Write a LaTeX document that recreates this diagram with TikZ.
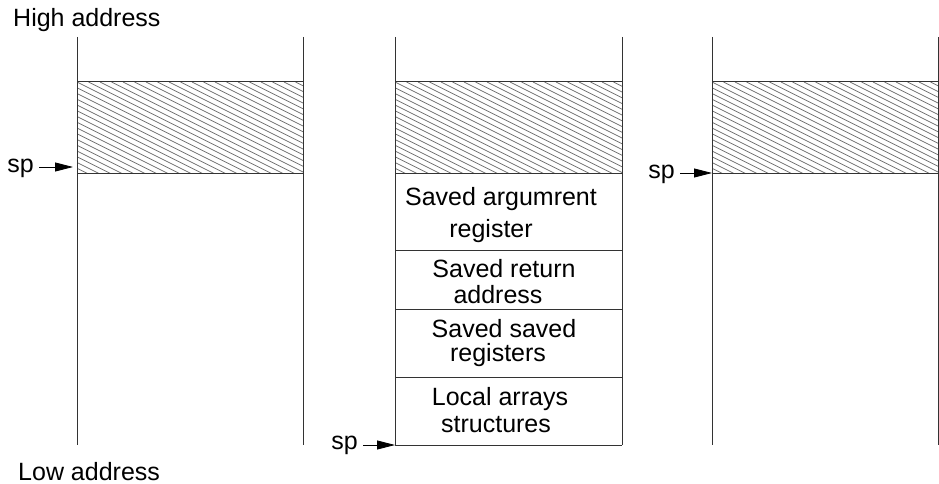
\documentclass[tikz,border=0pt]{standalone}
\usepackage{fontspec}
\setmainfont{Liberation Sans}
\usetikzlibrary{arrows.meta}
\tikzset{
  frame/.style={draw=black!80, line width=1pt},
  hatchline/.style={draw=black!55, line width=0.7pt},
  lbl/.style={font=\fontsize{25}{29}\selectfont, inner sep=0pt},
  spar/.style={draw=black, line width=0.8pt, -{Triangle[length=18pt,width=9pt]}, shorten <=5pt},
}
\newcommand{\myhatch}[2]{%
  \begin{scope}
    \clip (#1,82) rectangle (#2,173);
    \foreach \k in {-17,...,21} { \draw[hatchline] ({#1+11.5*\k},82) -- ++(220,110); }
  \end{scope}
  \draw[frame] (#1,82) rectangle (#2,173);
}
\begin{document}
\begin{tikzpicture}[x=1pt,y=-1pt]
\useasboundingbox (0,0) rectangle (939,484);
% labels
\node[lbl, anchor=base west] (hi) at (13,27) {High address};
\node[lbl, anchor=base west] (lo) at (18,480) {Low address};
% column 1
\draw[frame] (77,37) -- (77,445);
\draw[frame] (303,37) -- (303,445);
\myhatch{77}{303}
% column 2
\draw[frame] (395,37) -- (395,445);
\draw[frame] (622,37) -- (622,445);
\myhatch{395}{622}
\draw[frame] (395,250) -- (622,250);
\draw[frame] (395,309) -- (622,309);
\draw[frame] (395,377) -- (622,377);
\draw[frame] (395,445) -- (622,445);
% column 3
\draw[frame] (712,37) -- (712,445);
\draw[frame] (938,37) -- (938,445);
\myhatch{712}{938}
% texts column 2
\node[lbl, anchor=base] (t1a) at (501,205) {Saved argumrent};
\node[lbl, anchor=base] (t1b) at (491,237) {register};
\node[lbl, anchor=base] (t2a) at (504,277) {Saved return};
\node[lbl, anchor=base] (t2b) at (498,303) {address};
\node[lbl, anchor=base] (t3a) at (504,337) {Saved saved};
\node[lbl, anchor=base] (t3b) at (498,361) {registers};
\node[lbl, anchor=base] (t4a) at (500,405) {Local arrays};
\node[lbl, anchor=base] (t4b) at (496,432) {structures};
% sp pointers
\coordinate (tip1) at (73,167);
\coordinate (tip2) at (395,445);
\coordinate (tip3) at (712,173);
\node[lbl, anchor=base east] (sp1) at (34,172) {sp};
\node[lbl, anchor=base east] (sp2) at (358,449) {sp};
\node[lbl, anchor=base east] (sp3) at (675,178) {sp};
\draw[spar] (sp1.east |- tip1) -- (tip1);
\draw[spar] (sp2.east |- tip2) -- (tip2);
\draw[spar] (sp3.east |- tip3) -- (tip3);
\end{tikzpicture}
\end{document}
